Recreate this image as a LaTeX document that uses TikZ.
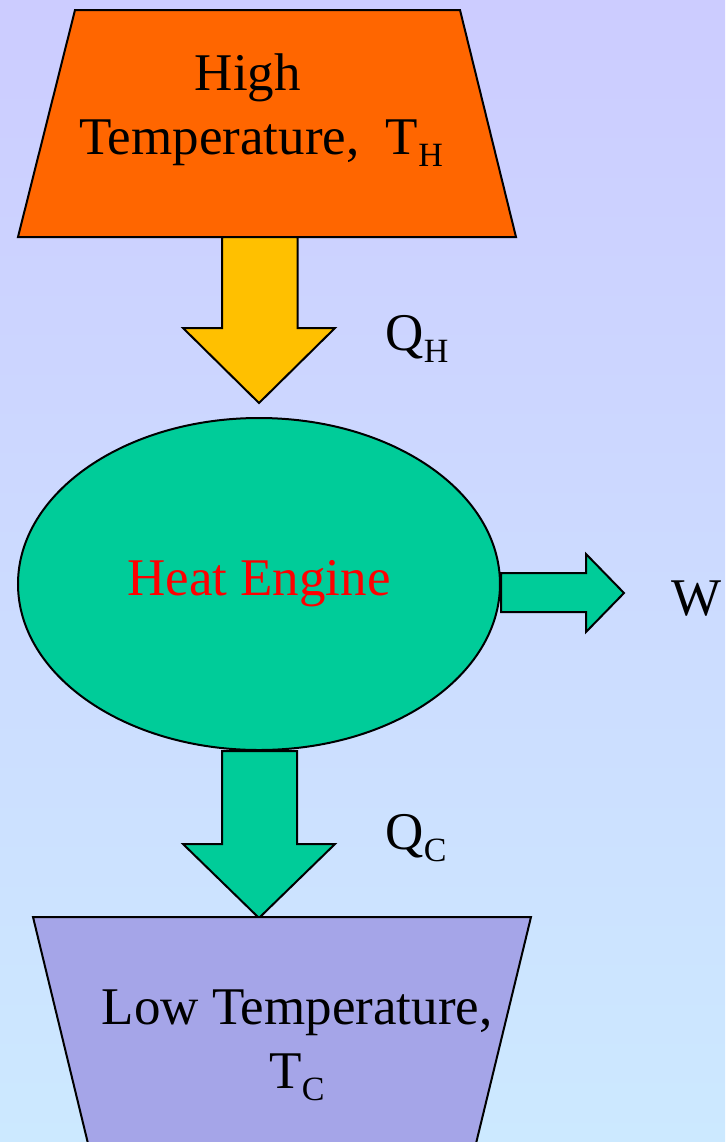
\documentclass[tikz,border=0pt]{standalone}
\usepackage{fontspec}
\setmainfont{Liberation Serif}
\usetikzlibrary{shapes.geometric,calc,positioning}

\definecolor{bgtop}{HTML}{CCCCFF}
\definecolor{bgbot}{HTML}{CCE9FF}
\definecolor{hotfill}{HTML}{FF6600}
\definecolor{qhfill}{HTML}{FFC000}
\definecolor{enginefill}{HTML}{00CC99}
\definecolor{coldfill}{HTML}{A5A5E8}
\definecolor{enginetext}{HTML}{FF0000}

\newcommand{\lowsub}[1]{\raisebox{-6pt}{\fontsize{17}{20}\selectfont #1}}

\tikzset{
  reservoir/.style={draw=black,line width=1pt,line join=miter},
  blockarrow/.style={draw=black,line width=1pt,line join=miter},
  bigtext/.style={font=\fontsize{26.5}{32}\selectfont}
}

\begin{document}
\begin{tikzpicture}[x=0.5pt,y=-0.5pt,every node/.style={bigtext}]
  \clip (0,0) rectangle (725,1142);
  \shade[top color=bgtop,bottom color=bgbot] (0,0) rectangle (725,1142);

  % hot reservoir
  \draw[reservoir,fill=hotfill] (75,10) -- (460,10) -- (516,237) -- (18,237) -- cycle;
  \node[align=center] (hot) at (261,110) {High\hspace*{13pt}\\Temperature,\ \ T\lowsub{H}};
  \coordinate (hotbase) at (259.5,237);

  % engine
  \node[ellipse,draw,line width=1pt,fill=enginefill,text=enginetext,
        minimum width=241pt,minimum height=166pt] (engine) at (259,584) {Heat Engine};

  % heat in
  \draw[blockarrow,fill=qhfill] (hotbase) ++(-37.5,0) -- ++(0,91) -- ++(-39,0)
    -- ++(76,75) -- ++(76,-75) -- ++(-37.5,0) -- ++(0,-91) -- cycle;
  \node[anchor=base] (qh) at (417,350) {Q\lowsub{H}};

  % work out
  \draw[blockarrow,fill=enginefill] (engine.east) ++(0,-11) -- ++(85,0) -- ++(0,-19)
    -- ++(38,39) -- ++(-38,39) -- ++(0,-20) -- ++(-85,0) -- cycle;
  \node[anchor=base] (work) at (697,615) {W};

  % heat out
  \draw[blockarrow,fill=enginefill] (engine.south) ++(-37,0) -- ++(0,93) -- ++(-39,0)
    -- ++(76,74) -- ++(76,-74) -- ++(-38,0) -- ++(0,-93) -- cycle;
  \node[anchor=base] (qc) at (416,849) {Q\lowsub{C}};

  % cold reservoir
  \draw[reservoir,fill=coldfill] (33,917) -- (531,917) -- (472,1160) -- (92,1160) -- cycle;
  \node[align=center] (cold) at (297,1045) {Low Temperature,\\T\lowsub{C}};
\end{tikzpicture}
\end{document}
